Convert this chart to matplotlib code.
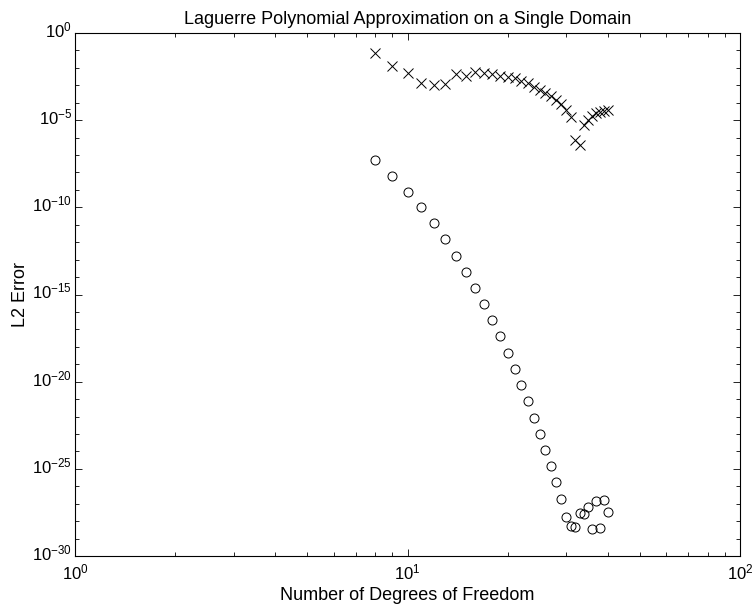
import numpy as np
import matplotlib
matplotlib.use("Agg")
import matplotlib.pyplot as plt
from matplotlib.ticker import LogLocator, FixedLocator, FuncFormatter, NullFormatter
from matplotlib.transforms import ScaledTranslation

plt.rcParams['font.family'] = ['Liberation Sans', 'DejaVu Sans']
plt.rcParams['mathtext.fontset'] = 'custom'
plt.rcParams['mathtext.rm'] = 'Liberation Sans'
plt.rcParams['mathtext.it'] = 'Liberation Sans'

dof = list(range(8, 41))
log_err_circle = [-7.29, -8.19, -9.10, -10.0, -10.92, -11.84, -12.78, -13.69, -14.61,
                  -15.55, -16.47, -17.40, -18.34, -19.28, -20.19, -21.13, -22.07, -23.0,
                  -23.94, -24.86, -25.78, -26.72, -27.77, -28.27, -28.33, -27.55, -27.6,
                  -27.19, -28.46, -26.85, -28.42, -26.81, -27.46]
log_err_cross = [-1.17, -1.89, -2.28, -2.89, -2.98, -2.95, -2.37, -2.47, -2.26, -2.31,
                 -2.35, -2.45, -2.5, -2.6, -2.73, -2.89, -3.08, -3.27, -3.46, -3.61,
                 -3.84, -4.07, -4.42, -4.84, -6.14, -6.43, -5.28, -4.99, -4.76, -4.61,
                 -4.51, -4.46, -4.42]

x = np.array(dof)
y_c = 10.0 ** np.array(log_err_circle)
y_x = 10.0 ** np.array(log_err_cross)

fig = plt.figure(figsize=(7.54, 6.07), dpi=100)
ax = fig.add_axes([75/754, 1 - 556/607, (740-75)/754, (556-33)/607])

ax.loglog(x, y_x, linestyle='none', marker='x', color='black', markersize=7, markeredgewidth=0.7)
ax.loglog(x, y_c, linestyle='none', marker='o', markerfacecolor='none', markeredgecolor='black',
          markersize=6.5, markeredgewidth=0.7)

ax.set_xlim(1, 100)
ax.set_ylim(1e-30, 1e0)

ax.xaxis.set_major_locator(FixedLocator([1, 10, 100]))
ax.xaxis.set_minor_locator(LogLocator(base=10, subs=np.arange(2, 10)))
ax.yaxis.set_major_locator(FixedLocator([10.0 ** k for k in range(-30, 1, 5)]))
ax.yaxis.set_minor_locator(FixedLocator([10.0 ** k for k in range(-30, 1)]))
ax.xaxis.set_minor_formatter(NullFormatter())
ax.yaxis.set_minor_formatter(NullFormatter())

def fmt(v, pos):
    e = int(round(np.log10(v)))
    return r'$10^{%d}$' % e
ax.xaxis.set_major_formatter(FuncFormatter(fmt))
ax.yaxis.set_major_formatter(FuncFormatter(fmt))

ax.tick_params(which='both', direction='in', top=True, right=True, labelsize=12, width=0.6)
ax.tick_params(which='major', length=5)
ax.tick_params(which='minor', length=3)
ax.tick_params(axis='x', which='major', pad=5)
ax.tick_params(axis='y', which='major', pad=2)
for s in ax.spines.values():
    s.set_linewidth(0.8)

ax.set_title('Laguerre Polynomial Approximation on a Single Domain', fontsize=13, pad=6.5)
ax.set_xlabel('Number of Degrees of Freedom', fontsize=13, labelpad=3)
ax.set_ylabel('L2 Error', fontsize=13, labelpad=2)

# raise y tick labels slightly so the base "10" sits centred on its tick
offset = ScaledTranslation(0, 3 / 72, fig.dpi_scale_trans)
for tick in ax.yaxis.get_major_ticks():
    tick.label1.set_transform(tick.label1.get_transform() + offset)

fig.savefig('out.png', dpi=100)
